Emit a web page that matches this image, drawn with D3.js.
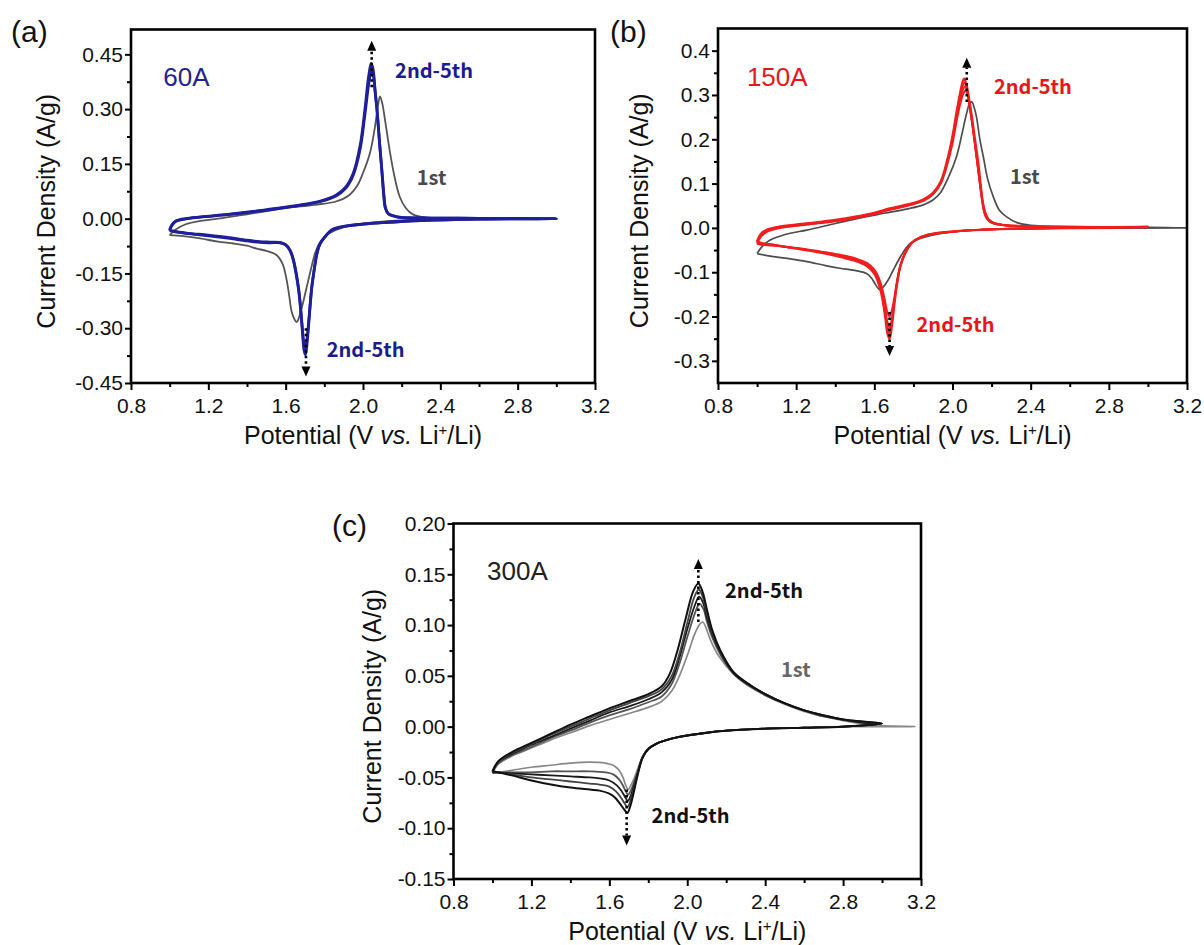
<!DOCTYPE html>
<html>
<head>
<meta charset="utf-8">
<script src="https://cdn.jsdelivr.net/npm/d3@7"></script>
<style>
  body { margin: 0; background: #fff; }
  svg { display: block; }
  .tick text { font-family: 'Liberation Sans', Arial, sans-serif; font-size: 21px; fill: #111; }
</style>
</head>
<body>
<svg id="chart" width="1204" height="945"></svg>
<script>
// tick values
const xTicks = [0.8, 1.2, 1.6, 2.0, 2.4, 2.8, 3.2];
const xMinor = [1.0, 1.4, 1.8, 2.2, 2.6, 3.0];
const aTicksY = [-0.45, -0.30, -0.15, 0.00, 0.15, 0.30, 0.45];
const aMinorY = [-0.375, -0.225, -0.075, 0.075, 0.225, 0.375];
const bTicksY = [-0.3, -0.2, -0.1, 0.0, 0.1, 0.2, 0.3, 0.4];
const bMinorY = [-0.25, -0.15, -0.05, 0.05, 0.15, 0.25, 0.35];
const cTicksY = [-0.15, -0.10, -0.05, 0.00, 0.05, 0.10, 0.15, 0.20];
const cMinorY = [-0.125, -0.075, -0.025, 0.025, 0.075, 0.125, 0.175];

// (a) 60A : [potential V, current A/g], anodic sweep then cathodic sweep
const a1st = [[1.0,-0.045],[1.03,-0.03],[1.08,-0.016],[1.16,-0.006],[1.25,0.0],[1.4,0.012],[1.59,0.028],[1.75,0.038],[1.86,0.047],
  [1.93,0.065],[1.97,0.09],[2.0,0.125],[2.036,0.18],[2.06,0.245],[2.075,0.3],[2.088,0.335],[2.1,0.315],[2.114,0.27],[2.14,0.18],
  [2.165,0.11],[2.19,0.06],[2.22,0.03],[2.26,0.011],[2.33,0.003],[2.5,0.001],[3.0,0.0],
  [2.5,-0.002],[2.2,-0.005],[2.1,-0.008],[1.95,-0.017],[1.86,-0.031],[1.8,-0.05],[1.77,-0.072],[1.752,-0.095],[1.73,-0.14],
  [1.709,-0.187],[1.69,-0.23],[1.674,-0.262],[1.662,-0.28],[1.655,-0.283],[1.645,-0.275],[1.631,-0.255],[1.618,-0.21],
  [1.605,-0.168],[1.585,-0.125],[1.554,-0.1],[1.5,-0.088],[1.45,-0.082],[1.4,-0.074],[1.33,-0.068],[1.25,-0.063],
  [1.157,-0.054],[1.07,-0.048],[1.0,-0.045]];
const a2nd = [[1.0,-0.033],[1.01,-0.02],[1.03,-0.008],[1.08,-0.001],[1.16,0.004],[1.3,0.011],[1.42,0.018],[1.55,0.027],[1.67,0.036],
  [1.78,0.047],[1.86,0.062],[1.91,0.083],[1.95,0.12],[1.985,0.19],[2.01,0.285],[2.03,0.37],[2.044,0.405],[2.054,0.39],[2.064,0.34],
  [2.074,0.29],[2.087,0.2],[2.099,0.125],[2.109,0.06],[2.117,0.028],[2.132,0.013],[2.177,0.005],[2.3,0.002],[2.6,0.001],[3.0,0.0],
  [2.6,-0.001],[2.3,-0.005],[2.1,-0.011],[2.0,-0.015],[1.9,-0.022],[1.84,-0.031],[1.803,-0.05],[1.775,-0.072],[1.76,-0.1],
  [1.745,-0.148],[1.735,-0.186],[1.725,-0.245],[1.716,-0.3],[1.708,-0.34],[1.702,-0.355],[1.695,-0.345],[1.688,-0.31],
  [1.68,-0.26],[1.668,-0.195],[1.655,-0.15],[1.64,-0.112],[1.623,-0.086],[1.6,-0.071],[1.571,-0.066],[1.52,-0.066],
  [1.467,-0.065],[1.4,-0.061],[1.3,-0.053],[1.2,-0.047],[1.1,-0.041],[1.04,-0.037],[1.0,-0.033]];
const a5th = [[1.0,-0.031],[1.01,-0.018],[1.03,-0.007],[1.08,0.0],[1.16,0.005],[1.3,0.012],[1.42,0.019],[1.55,0.028],[1.67,0.037],
  [1.78,0.048],[1.86,0.064],[1.91,0.086],[1.95,0.125],[1.985,0.2],[2.01,0.3],[2.028,0.385],[2.042,0.425],[2.052,0.41],[2.062,0.355],
  [2.072,0.3],[2.085,0.21],[2.097,0.133],[2.107,0.065],[2.115,0.03],[2.13,0.014],[2.175,0.005],[2.3,0.002],[2.6,0.001],[3.0,0.0],
  [2.6,-0.001],[2.3,-0.005],[2.1,-0.011],[2.0,-0.015],[1.9,-0.021],[1.84,-0.03],[1.803,-0.05],[1.775,-0.072],[1.76,-0.1],
  [1.745,-0.15],[1.735,-0.19],[1.725,-0.25],[1.716,-0.31],[1.708,-0.355],[1.702,-0.372],[1.695,-0.36],[1.688,-0.32],
  [1.68,-0.265],[1.668,-0.2],[1.655,-0.155],[1.64,-0.115],[1.623,-0.088],[1.6,-0.072],[1.571,-0.065],[1.52,-0.064],
  [1.467,-0.063],[1.4,-0.059],[1.3,-0.051],[1.2,-0.045],[1.1,-0.04],[1.04,-0.036],[1.0,-0.031]];

// (b) 150A
const b1st = [[1.0,-0.058],[1.02,-0.045],[1.05,-0.032],[1.083,-0.024],[1.17,-0.012],[1.254,-0.005],[1.4,0.01],[1.51,0.021],
  [1.65,0.033],[1.77,0.043],[1.851,0.052],[1.9,0.063],[1.936,0.078],[1.98,0.115],[2.02,0.16],[2.05,0.215],[2.072,0.258],
  [2.09,0.283],[2.1,0.284],[2.112,0.27],[2.123,0.25],[2.14,0.2],[2.158,0.16],[2.18,0.11],[2.209,0.07],[2.24,0.04],[2.277,0.025],
  [2.33,0.012],[2.4,0.006],[2.6,0.003],[3.0,0.001],[3.2,0.0],
  [2.6,-0.001],[2.3,-0.002],[2.1,-0.005],[1.95,-0.012],[1.834,-0.024],[1.79,-0.033],[1.766,-0.043],[1.73,-0.068],[1.697,-0.095],
  [1.67,-0.118],[1.646,-0.133],[1.628,-0.14],[1.615,-0.134],[1.602,-0.125],[1.585,-0.113],[1.56,-0.103],[1.5,-0.096],
  [1.424,-0.091],[1.35,-0.085],[1.254,-0.076],[1.17,-0.07],[1.083,-0.065],[1.0,-0.058]];
const b2nd = [[1.0,-0.036],[1.02,-0.02],[1.05,-0.009],[1.1,-0.002],[1.25,0.007],[1.4,0.015],[1.51,0.023],[1.6,0.031],[1.68,0.041],
  [1.78,0.051],[1.851,0.061],[1.9,0.075],[1.94,0.1],[1.97,0.138],[2.0,0.19],[2.02,0.238],[2.04,0.28],[2.055,0.302],[2.067,0.31],
  [2.08,0.295],[2.092,0.26],[2.104,0.225],[2.122,0.165],[2.14,0.105],[2.155,0.06],[2.17,0.033],[2.185,0.02],[2.21,0.012],
  [2.27,0.006],[2.36,0.004],[2.6,0.002],[3.0,0.002],
  [2.6,0.0],[2.3,-0.002],[2.107,-0.005],[1.95,-0.011],[1.868,-0.017],[1.81,-0.028],[1.785,-0.038],[1.76,-0.055],[1.734,-0.083],
  [1.715,-0.122],[1.703,-0.155],[1.69,-0.185],[1.678,-0.2],[1.668,-0.192],[1.657,-0.17],[1.645,-0.145],[1.633,-0.125],
  [1.615,-0.105],[1.598,-0.093],[1.565,-0.08],[1.5,-0.068],[1.43,-0.061],[1.35,-0.055],[1.25,-0.048],[1.15,-0.043],
  [1.08,-0.04],[1.02,-0.038],[1.0,-0.036]];
const b3rd = [[1.0,-0.034],[1.02,-0.018],[1.05,-0.007],[1.1,0.0],[1.25,0.008],[1.4,0.016],[1.51,0.024],[1.6,0.032],[1.68,0.042],
  [1.78,0.052],[1.851,0.062],[1.9,0.077],[1.94,0.102],[1.97,0.142],[2.0,0.197],[2.02,0.246],[2.04,0.29],[2.055,0.313],[2.064,0.32],
  [2.077,0.305],[2.09,0.27],[2.102,0.232],[2.12,0.17],[2.137,0.11],[2.152,0.062],[2.166,0.033],[2.182,0.019],[2.21,0.011],
  [2.27,0.006],[2.36,0.004],[2.6,0.002],[3.0,0.002],
  [2.6,0.0],[2.3,-0.002],[2.107,-0.005],[1.95,-0.011],[1.868,-0.017],[1.81,-0.028],[1.785,-0.038],[1.76,-0.055],[1.734,-0.084],
  [1.715,-0.126],[1.703,-0.163],[1.69,-0.203],[1.678,-0.225],[1.668,-0.214],[1.657,-0.186],[1.645,-0.156],[1.633,-0.133],
  [1.615,-0.11],[1.598,-0.097],[1.565,-0.083],[1.5,-0.07],[1.43,-0.063],[1.35,-0.056],[1.25,-0.049],[1.15,-0.043],
  [1.08,-0.039],[1.02,-0.036],[1.0,-0.034]];
const b4th = [[1.0,-0.032],[1.02,-0.015],[1.05,-0.005],[1.1,0.001],[1.25,0.009],[1.4,0.017],[1.51,0.025],[1.6,0.033],[1.68,0.043],
  [1.78,0.053],[1.851,0.063],[1.9,0.078],[1.94,0.104],[1.97,0.145],[2.0,0.202],[2.02,0.254],[2.04,0.3],[2.052,0.32],[2.062,0.328],
  [2.075,0.312],[2.088,0.275],[2.1,0.24],[2.118,0.178],[2.135,0.118],[2.15,0.066],[2.163,0.034],[2.18,0.018],[2.21,0.01],
  [2.27,0.006],[2.36,0.004],[2.6,0.002],[3.0,0.002],
  [2.6,0.0],[2.3,-0.002],[2.107,-0.005],[1.95,-0.01],[1.868,-0.016],[1.81,-0.027],[1.785,-0.037],[1.76,-0.055],[1.734,-0.085],
  [1.715,-0.128],[1.703,-0.167],[1.69,-0.212],[1.678,-0.238],[1.668,-0.226],[1.657,-0.195],[1.645,-0.163],[1.633,-0.138],
  [1.615,-0.114],[1.598,-0.1],[1.565,-0.085],[1.5,-0.072],[1.43,-0.064],[1.35,-0.057],[1.25,-0.049],[1.15,-0.043],
  [1.08,-0.038],[1.02,-0.035],[1.0,-0.032]];
const b5th = [[1.0,-0.03],[1.02,-0.013],[1.05,-0.004],[1.1,0.002],[1.25,0.01],[1.4,0.018],[1.51,0.026],[1.6,0.034],[1.68,0.044],
  [1.78,0.054],[1.851,0.064],[1.9,0.079],[1.94,0.105],[1.97,0.148],[2.0,0.207],[2.02,0.26],[2.04,0.307],[2.052,0.33],[2.06,0.337],
  [2.073,0.32],[2.085,0.29],[2.097,0.258],[2.115,0.2],[2.132,0.146],[2.146,0.09],[2.158,0.048],[2.172,0.025],[2.192,0.014],
  [2.25,0.007],[2.36,0.004],[2.6,0.002],[3.0,0.002],
  [2.6,0.0],[2.3,-0.002],[2.107,-0.005],[1.95,-0.01],[1.868,-0.016],[1.81,-0.027],[1.785,-0.037],[1.76,-0.055],[1.734,-0.085],
  [1.715,-0.13],[1.703,-0.17],[1.69,-0.22],[1.678,-0.25],[1.667,-0.238],[1.657,-0.205],[1.645,-0.17],[1.633,-0.143],
  [1.615,-0.117],[1.598,-0.102],[1.565,-0.087],[1.5,-0.074],[1.43,-0.066],[1.35,-0.058],[1.25,-0.05],[1.15,-0.043],
  [1.08,-0.038],[1.02,-0.034],[1.0,-0.03]];

// (c) 300A
const c1st = [[1.0,-0.046],[1.03,-0.037],[1.1,-0.029],[1.2,-0.021],[1.3,-0.013],[1.4,-0.006],[1.5,0.001],[1.6,0.007],[1.7,0.013],
  [1.8,0.019],[1.87,0.025],[1.92,0.035],[1.96,0.05],[2.0,0.07],[2.04,0.092],[2.065,0.101],[2.08,0.103],[2.095,0.098],[2.12,0.085],
  [2.16,0.07],[2.236,0.052],[2.3,0.042],[2.4,0.031],[2.5,0.022],[2.6,0.015],[2.7,0.01],[2.8,0.006],[2.9,0.003],[3.0,0.001],[3.17,0.0],
  [2.8,0.0],[2.6,-0.001],[2.4,-0.002],[2.2,-0.004],[2.1,-0.006],[1.96,-0.01],[1.88,-0.014],[1.84,-0.017],[1.8,-0.022],[1.77,-0.03],
  [1.745,-0.042],[1.725,-0.052],[1.71,-0.058],[1.697,-0.062],[1.685,-0.058],[1.67,-0.05],[1.65,-0.043],[1.62,-0.038],[1.58,-0.036],
  [1.5,-0.035],[1.4,-0.036],[1.3,-0.038],[1.2,-0.04],[1.1,-0.043],[1.0,-0.046]];
const c2nd = [[1.0,-0.045],[1.03,-0.036],[1.1,-0.028],[1.2,-0.02],[1.3,-0.011],[1.4,-0.004],[1.5,0.004],[1.6,0.011],[1.7,0.017],
  [1.8,0.024],[1.87,0.03],[1.92,0.042],[1.96,0.062],[2.0,0.088],[2.04,0.112],[2.063,0.121],[2.085,0.115],[2.1,0.104],[2.13,0.087],
  [2.17,0.071],[2.236,0.053],[2.3,0.043],[2.4,0.031],[2.5,0.023],[2.6,0.016],[2.7,0.01],[2.8,0.007],[2.9,0.004],[3.0,0.003],
  [2.8,0.0],[2.6,-0.001],[2.4,-0.002],[2.2,-0.004],[2.1,-0.006],[1.96,-0.01],[1.88,-0.014],[1.84,-0.017],[1.8,-0.022],[1.77,-0.03],
  [1.745,-0.045],[1.725,-0.056],[1.71,-0.063],[1.697,-0.067],[1.685,-0.064],[1.67,-0.058],[1.65,-0.052],[1.62,-0.047],[1.58,-0.045],
  [1.5,-0.044],[1.4,-0.044],[1.3,-0.044],[1.2,-0.045],[1.1,-0.045],[1.0,-0.045]];
const c3rd = [[1.0,-0.045],[1.03,-0.035],[1.1,-0.027],[1.2,-0.018],[1.3,-0.01],[1.4,-0.002],[1.5,0.006],[1.6,0.014],[1.7,0.02],
  [1.8,0.027],[1.87,0.034],[1.92,0.046],[1.96,0.068],[2.0,0.096],[2.04,0.12],[2.061,0.128],[2.083,0.121],[2.1,0.108],[2.13,0.09],
  [2.17,0.073],[2.236,0.053],[2.3,0.043],[2.4,0.032],[2.5,0.023],[2.6,0.016],[2.7,0.011],[2.8,0.007],[2.9,0.004],[3.0,0.003],
  [2.8,0.0],[2.6,-0.001],[2.4,-0.002],[2.2,-0.004],[2.1,-0.006],[1.96,-0.01],[1.88,-0.014],[1.84,-0.017],[1.8,-0.022],[1.77,-0.03],
  [1.745,-0.046],[1.725,-0.059],[1.71,-0.068],[1.695,-0.073],[1.683,-0.07],[1.665,-0.064],[1.64,-0.058],[1.6,-0.053],[1.55,-0.051],
  [1.5,-0.05],[1.4,-0.049],[1.3,-0.048],[1.2,-0.047],[1.1,-0.046],[1.0,-0.045]];
const c4th = [[1.0,-0.044],[1.03,-0.035],[1.1,-0.026],[1.2,-0.017],[1.3,-0.008],[1.4,0.0],[1.5,0.008],[1.6,0.016],[1.7,0.023],
  [1.8,0.03],[1.87,0.037],[1.92,0.05],[1.96,0.072],[2.0,0.102],[2.035,0.127],[2.059,0.135],[2.081,0.127],[2.1,0.112],[2.13,0.092],
  [2.17,0.074],[2.236,0.054],[2.3,0.044],[2.4,0.032],[2.5,0.023],[2.6,0.016],[2.7,0.011],[2.8,0.007],[2.9,0.005],[3.0,0.003],
  [2.8,0.0],[2.6,-0.001],[2.4,-0.002],[2.2,-0.004],[2.1,-0.006],[1.96,-0.01],[1.88,-0.014],[1.84,-0.017],[1.8,-0.022],[1.77,-0.031],
  [1.745,-0.047],[1.725,-0.062],[1.708,-0.073],[1.694,-0.079],[1.68,-0.076],[1.66,-0.07],[1.635,-0.064],[1.6,-0.059],[1.55,-0.057],
  [1.5,-0.056],[1.4,-0.054],[1.3,-0.052],[1.2,-0.05],[1.1,-0.047],[1.0,-0.044]];
const c5th = [[1.0,-0.044],[1.03,-0.034],[1.1,-0.025],[1.2,-0.016],[1.3,-0.007],[1.4,0.002],[1.5,0.01],[1.6,0.018],[1.7,0.025],
  [1.8,0.032],[1.87,0.04],[1.91,0.052],[1.95,0.075],[1.99,0.105],[2.03,0.133],[2.057,0.141],[2.08,0.132],[2.1,0.116],[2.13,0.094],
  [2.17,0.075],[2.236,0.054],[2.3,0.044],[2.4,0.032],[2.5,0.023],[2.6,0.016],[2.7,0.011],[2.8,0.007],[2.9,0.005],[3.0,0.003],
  [2.8,0.0],[2.6,-0.001],[2.4,-0.002],[2.2,-0.004],[2.1,-0.006],[1.96,-0.01],[1.88,-0.014],[1.84,-0.017],[1.8,-0.022],[1.77,-0.031],
  [1.745,-0.048],[1.725,-0.065],[1.708,-0.078],[1.693,-0.085],[1.678,-0.082],[1.655,-0.076],[1.63,-0.07],[1.6,-0.066],[1.55,-0.063],
  [1.5,-0.062],[1.4,-0.06],[1.3,-0.057],[1.2,-0.053],[1.1,-0.048],[1.0,-0.044]];

const svg = d3.select('#chart');
svg.append('rect').attr('width', 1204).attr('height', 945).attr('fill', '#fff');

const bold = "'Noto Sans CJK KR', 'Noto Sans', sans-serif";
const sans = "'Liberation Sans', Arial, sans-serif";

const panels = [
  {
    tag: '(a)', tagX: 11, tagY: 42, left: 131, right: 595, top: 29.5, bottom: 383,
    yDomain: [-0.45, 0.518], yTicks: aTicksY, yMinor: aMinorY, yFmt: 2, titleDx: -76,
    series: [
      { data: a1st, color: '#555', width: 1.8 },
      { data: a2nd, color: '#1f1f9c', width: 2.8 },
      { data: a5th, color: '#1f1f9c', width: 2.8 }
    ],
    name: { text: '60A', x: 0.967, y: 0.364, color: '#23238f' },
    labels: [
      { text: '2nd-5th', x: 2.166, y: 0.385, color: '#1c1c8c' },
      { text: '1st', x: 2.278, y: 0.092, color: '#4a4a4a' },
      { text: '2nd-5th', x: 1.812, y: -0.379, color: '#1c1c8c' }
    ],
    arrows: [ { x: 2.045, from: 0.36, to: 0.487 }, { x: 1.705, from: -0.30, to: -0.432 } ]
  },
  {
    tag: '(b)', tagX: 610, tagY: 42, left: 718, right: 1187, top: 28.5, bottom: 383,
    yDomain: [-0.35, 0.45], yTicks: bTicksY, yMinor: bMinorY, yFmt: 1, titleDx: -70,
    series: [
      { data: b1st, color: '#4d4d4d', width: 1.7 },
      { data: b2nd, color: '#f01e1e', width: 1.9 },
      { data: b3rd, color: '#f01e1e', width: 1.9 },
      { data: b4th, color: '#f01e1e', width: 1.9 },
      { data: b5th, color: '#f01e1e', width: 2.3 }
    ],
    name: { text: '150A', x: 0.948, y: 0.321, color: '#e8161b' },
    labels: [
      { text: '2nd-5th', x: 2.212, y: 0.303, color: '#e8161b' },
      { text: '1st', x: 2.294, y: 0.10, color: '#4a4a4a' },
      { text: '2nd-5th', x: 1.816, y: -0.235, color: '#e8161b' }
    ],
    arrows: [ { x: 2.073, from: 0.284, to: 0.384 }, { x: 1.678, from: -0.19, to: -0.289 } ]
  },
  {
    tag: '(c)', tagX: 332, tagY: 536, left: 453.5, right: 921, top: 523.5, bottom: 879,
    yDomain: [-0.15, 0.20], yTicks: cTicksY, yMinor: cMinorY, yFmt: 2, titleDx: -73,
    series: [
      { data: c1st, color: '#888', width: 1.7 },
      { data: c2nd, color: '#555', width: 1.8 },
      { data: c3rd, color: '#1a1a1a', width: 1.8 },
      { data: c4th, color: '#444', width: 1.8 },
      { data: c5th, color: '#111', width: 2 }
    ],
    name: { text: '300A', x: 0.972, y: 0.144, color: '#222' },
    labels: [
      { text: '2nd-5th', x: 2.194, y: 0.127, color: '#111' },
      { text: '1st', x: 2.481, y: 0.049, color: '#666' },
      { text: '2nd-5th', x: 1.817, y: -0.095, color: '#111' }
    ],
    arrows: [ { x: 2.057, from: 0.103, to: 0.165 }, { x: 1.689, from: -0.062, to: -0.117 } ]
  }
];

panels.forEach(p => {
  const g = svg.append('g');
  const x = d3.scaleLinear().domain([0.8, 3.2]).range([p.left, p.right]);
  const y = d3.scaleLinear().domain(p.yDomain).range([p.bottom, p.top]);

  const line = d3.line()
    .x(d => x(d[0]))
    .y(d => y(d[1]))
    .curve(d3.curveCatmullRom.alpha(0.5));

  p.series.forEach(s => {
    g.append('path')
      .attr('d', line(s.data))
      .attr('fill', 'none')
      .attr('stroke', s.color)
      .attr('stroke-width', s.width)
      .attr('stroke-linejoin', 'round');
  });

  // dotted arrows through the peaks
  p.arrows.forEach(a => {
    const up = a.to > a.from;
    const tip = y(a.to);
    const base = up ? tip + 10 : tip - 10;
    g.append('line')
      .attr('x1', x(a.x)).attr('x2', x(a.x))
      .attr('y1', y(a.from)).attr('y2', base)
      .attr('stroke', '#000').attr('stroke-width', 2.6)
      .attr('stroke-dasharray', '2.5,3');
    g.append('path')
      .attr('d', `M${x(a.x)},${tip}L${x(a.x) - 4.5},${base}L${x(a.x) + 4.5},${base}Z`)
      .attr('fill', '#000');
  });

  // axes
  g.append('g').attr('transform', `translate(0,${p.bottom})`)
    .call(d3.axisBottom(x).tickValues(xTicks).tickSize(7).tickPadding(8).tickFormat(d => d.toFixed(1)));
  g.append('g').attr('transform', `translate(0,${p.bottom})`)
    .call(d3.axisBottom(x).tickValues(xMinor).tickSize(4).tickFormat(''));
  g.append('g').attr('transform', `translate(${p.left},0)`)
    .call(d3.axisLeft(y).tickValues(p.yTicks).tickSize(6).tickPadding(2).tickFormat(d => d.toFixed(p.yFmt)));
  g.append('g').attr('transform', `translate(${p.left},0)`)
    .call(d3.axisLeft(y).tickValues(p.yMinor).tickSize(4).tickFormat(''));
  g.selectAll('.domain').remove();
  g.selectAll('.tick line').attr('stroke', '#000').attr('stroke-width', 2);

  g.append('rect')
    .attr('x', p.left).attr('y', p.top)
    .attr('width', p.right - p.left).attr('height', p.bottom - p.top)
    .attr('fill', 'none').attr('stroke', '#000').attr('stroke-width', 2.6);

  // axis titles
  const xt = g.append('text')
    .attr('x', (p.left + p.right) / 2).attr('y', p.bottom + 61)
    .attr('text-anchor', 'middle')
    .style('font-family', sans).style('font-size', '25px').attr('fill', '#111');
  xt.append('tspan').text('Potential (V ');
  xt.append('tspan').style('font-style', 'italic').text('vs.');
  xt.append('tspan').text(' Li');
  xt.append('tspan').attr('dy', -9).style('font-size', '15px').text('+');
  xt.append('tspan').attr('dy', 9).text('/Li)');

  g.append('text')
    .attr('transform', `translate(${p.left + p.titleDx},${(p.top + p.bottom) / 2 + 5}) rotate(-90)`)
    .attr('text-anchor', 'middle')
    .style('font-family', sans).style('font-size', '25px').attr('fill', '#111')
    .text('Current Density (A/g)');

  // panel tag and sample name
  svg.append('text')
    .attr('x', p.tagX).attr('y', p.tagY)
    .style('font-family', sans).style('font-size', '30px').attr('fill', '#111')
    .text(p.tag);
  g.append('text')
    .attr('x', x(p.name.x)).attr('y', y(p.name.y))
    .style('font-family', sans).style('font-size', '26px').attr('fill', p.name.color)
    .text(p.name.text);

  p.labels.forEach(l => {
    g.append('text')
      .attr('x', x(l.x)).attr('y', y(l.y))
      .style('font-family', bold).style('font-weight', 700).style('font-size', '20px')
      .attr('fill', l.color)
      .text(l.text);
  });
});
</script>
</body>
</html>
